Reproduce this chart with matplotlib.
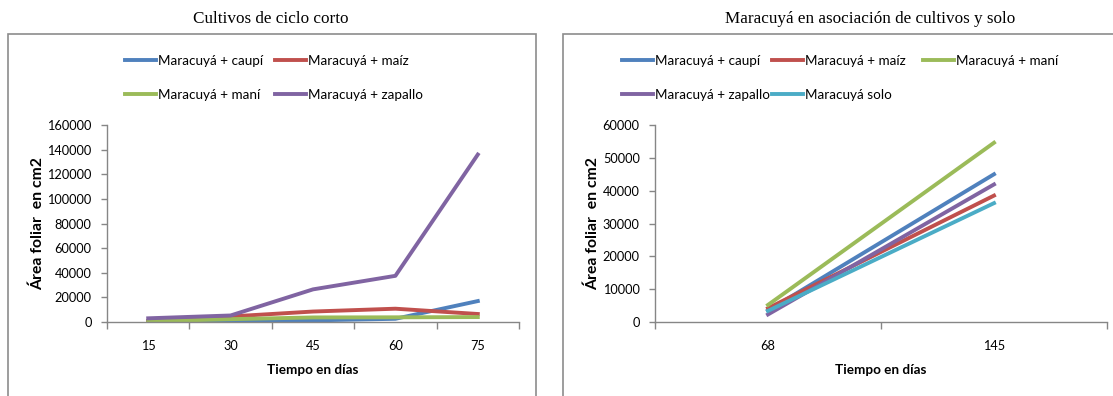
import matplotlib
matplotlib.use("Agg")
import matplotlib.pyplot as plt
import numpy as np
from matplotlib.patches import Rectangle
from matplotlib.ticker import FixedLocator, NullFormatter

plt.rcParams['font.family'] = ['Lato', 'DejaVu Sans']

W, H, DPI = 1113, 396, 100

# ---- Left chart: Cultivos de ciclo corto ----
days_short = ["15", "30", "45", "60", "75"]
caupi_short = [200, 600, 1300, 2600, 17000]
maiz_short = [900, 4500, 8500, 10800, 6500]
mani_short = [500, 2300, 3700, 3800, 4000]
zapallo_short = [3000, 5300, 26500, 37500, 136000]

# ---- Right chart: Maracuyá en asociación de cultivos y solo ----
days_long = ["68", "145"]
caupi_long = [3500, 45000]
maiz_long = [4200, 38500]
mani_long = [5200, 54600]
zapallo_long = [2300, 41900]
solo_long = [3400, 36200]

labels = {"caupi": "Maracuyá + caupí", "maiz": "Maracuyá + maíz",
          "mani": "Maracuyá + maní", "zapallo": "Maracuyá + zapallo",
          "solo": "Maracuyá solo"}
colors = {"caupi": "#4F81BD", "maiz": "#C0504D", "mani": "#9BBB59",
          "zapallo": "#8064A2", "solo": "#4BACC6"}

AXC = "#868686"
FS = 9.2
LFS = 9.75
LW = 2.8


def fx(x):
    return x / W


def fy(y):
    return 1 - y / H


fig = plt.figure(figsize=(W / DPI, H / DPI), dpi=DPI)

# outer chart frames
fig.add_artist(Rectangle((fx(8), -0.1), fx(536) - fx(8), fy(33.7) + 0.1,
                         transform=fig.transFigure, fill=False,
                         edgecolor="#8c8c8c", lw=1.2))
fig.add_artist(Rectangle((fx(563), -0.1), 1.0, fy(33.7) + 0.1,
                         transform=fig.transFigure, fill=False,
                         edgecolor="#8c8c8c", lw=1.2))


def style_axes(ax, cats, ymax, ystep, ylabel_x):
    n = len(cats)
    ax.set_xlim(-0.5, n - 0.5)
    ax.set_ylim(0, ymax)
    ax.set_yticks(np.arange(0, ymax + 1, ystep))
    ax.set_yticklabels([str(int(v)) for v in np.arange(0, ymax + 1, ystep)])
    ax.xaxis.set_major_locator(FixedLocator(np.arange(-0.5, n, 1.0)))
    ax.xaxis.set_major_formatter(NullFormatter())
    ax.xaxis.set_minor_locator(FixedLocator(np.arange(n)))
    ax.set_xticklabels(cats, minor=True)
    ax.tick_params(axis="x", which="major", length=5, width=1, color=AXC, direction="out")
    ax.tick_params(axis="x", which="minor", length=0, pad=13, labelsize=FS)
    ax.tick_params(axis="y", length=4, width=1, color=AXC, direction="out", pad=7, labelsize=FS)
    for s in ("top", "right"):
        ax.spines[s].set_visible(False)
    for s in ("left", "bottom"):
        ax.spines[s].set_color(AXC)
        ax.spines[s].set_linewidth(1.0)
    ax.set_xlabel("Tiempo en días", fontsize=9.7, fontweight="bold")
    ax.xaxis.set_label_coords(0.5, -0.215)
    ax.set_ylabel("Área foliar  en cm2", fontsize=11.3, fontweight="bold")
    ax.yaxis.set_label_coords(ylabel_x, 0.5)


# Left axes
ax1 = fig.add_axes([fx(107), fy(322), fx(519) - fx(107), (322 - 125) / H])
x1 = np.arange(len(days_short))
h_caupi1, = ax1.plot(x1, caupi_short, color=colors["caupi"], lw=LW, label=labels["caupi"])
h_maiz1, = ax1.plot(x1, maiz_short, color=colors["maiz"], lw=LW, label=labels["maiz"])
h_mani1, = ax1.plot(x1, mani_short, color=colors["mani"], lw=LW, label=labels["mani"])
h_zap1, = ax1.plot(x1, zapallo_short, color=colors["zapallo"], lw=LW, label=labels["zapallo"])
style_axes(ax1, days_short, 160000, 20000, -0.150)

# Right axes
ax2 = fig.add_axes([fx(655), fy(322), fx(1107) - fx(655), (322 - 125) / H])
x2 = np.arange(len(days_long))
h_caupi2, = ax2.plot(x2, caupi_long, color=colors["caupi"], lw=LW, label=labels["caupi"])
h_maiz2, = ax2.plot(x2, maiz_long, color=colors["maiz"], lw=LW, label=labels["maiz"])
h_mani2, = ax2.plot(x2, mani_long, color=colors["mani"], lw=LW, label=labels["mani"])
h_zap2, = ax2.plot(x2, zapallo_long, color=colors["zapallo"], lw=LW, label=labels["zapallo"])
h_solo2, = ax2.plot(x2, solo_long, color=colors["solo"], lw=LW, label=labels["solo"])
style_axes(ax2, days_long, 60000, 10000, -0.122)

# Titles
fig.text(fx(271), fy(19), "Cultivos de ciclo corto", ha="center", va="center",
         family="Liberation Serif", fontsize=12.3)
fig.text(fx(870), fy(19), "Maracuyá en asociación de cultivos y solo", ha="center",
         va="center", family="Liberation Serif", fontsize=12.3)


def legend_col(handles, xpx, ytop):
    fig.legend(handles=handles, labels=[h.get_label() for h in handles],
               loc="upper left", bbox_to_anchor=(fx(xpx), fy(ytop)),
               bbox_transform=fig.transFigure, frameon=False, borderpad=0,
               borderaxespad=0, handlelength=2.3, handletextpad=0.15,
               labelspacing=1.6, fontsize=LFS)


legend_col([h_caupi1, h_mani1], 125, 55)
legend_col([h_maiz1, h_zap1], 275, 55)
legend_col([h_caupi2, h_zap2], 622, 55)
legend_col([h_maiz2, h_solo2], 772, 55)
legend_col([h_mani2], 923, 55)

fig.savefig("out.png", dpi=DPI)
